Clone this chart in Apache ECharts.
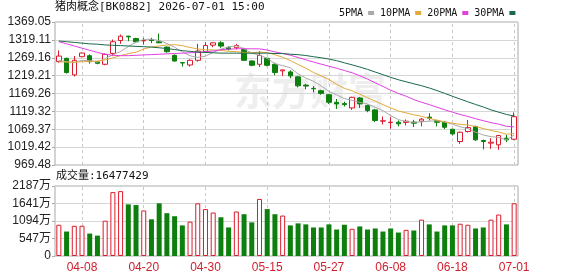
<!DOCTYPE html>
<html><head><meta charset="utf-8">
<script src="https://cdn.jsdelivr.net/npm/echarts@6/dist/echarts.min.js"></script>
<style>html,body{margin:0;padding:0;background:#fff}#c{width:578px;height:276px}</style>
</head><body><div id="c"></div>
<script>
const dates = ['04-02','04-03','04-07','04-08','04-09','04-10','04-13','04-14','04-15','04-16','04-17','04-20','04-21','04-22','04-23','04-24','04-27','04-28','04-29','04-30',
'05-06','05-07','05-08','05-11','05-12','05-13','05-14','05-15','05-18','05-19','05-20','05-21','05-22','05-25','05-26','05-27','05-28','05-29',
'06-01','06-02','06-03','06-04','06-05','06-08','06-09','06-10','06-11','06-12','06-15','06-16','06-17','06-18','06-22','06-23','06-24','06-25','06-26','06-29','06-30','07-01'];
const openP = [1258.3,1267.5,1221.3,1272.1,1274.9,1257.3,1250.9,1281.3,1317.3,1329.4,1322.9,1316.4,1319.2,1313.7,1298.9,1275.8,1255.5,1249.0,1262.0,1286.0,
1304.4,1310.9,1297.1,1297.1,1292.4,1260.1,1250.9,1267.5,1250.9,1232.4,1229.6,1215.8,1192.8,1183.5,1177.0,1165.9,1144.7,1141.0,1129.0,1156.7,
1135.5,1123.5,1092.0,1088.0,1089.1,1088.3,1089.1,1092.0,1103.2,1093.4,1088.8,1069.4,1035.1,1062.9,1076.8,1037.9,1030.5,1025.9,1044.4,1041.6];
const closeP = [1273.9,1227.8,1262.0,1282.3,1258.3,1253.6,1278.6,1313.7,1329.4,1327.5,1313.7,1317.3,1317.3,1310.9,1286.0,1260.1,1254.5,1262.0,1287.8,1303.5,
1310.9,1301.7,1293.3,1303.5,1262.0,1248.1,1275.8,1248.1,1227.8,1235.2,1218.6,1190.7,1190.0,1182.5,1169.6,1144.7,1140.1,1138.2,1158.5,1140.1,
1121.6,1093.9,1093.0,1089.0,1084.5,1091.9,1086.4,1097.6,1099.9,1088.8,1074.9,1056.4,1061.0,1074.0,1039.8,1035.1,1033.3,1051.8,1039.8,1104.5];
const lowP = [1255.5,1225.0,1216.7,1270.3,1252.7,1250.9,1248.1,1273.9,1308.1,1315.5,1310.0,1306.3,1310.0,1310.0,1283.2,1258.3,1244.4,1244.4,1258.3,1283.2,
1298.9,1297.1,1289.6,1292.4,1260.1,1245.3,1243.5,1245.3,1220.4,1218.6,1212.1,1186.1,1180.7,1172.4,1165.9,1140.1,1126.2,1132.7,1123.5,1129.0,
1117.0,1089.3,1082.8,1070.8,1077.3,1080.0,1075.5,1077.3,1093.9,1077.3,1069.9,1051.8,1028.7,1060.1,1037.0,1013.0,1014.8,1012.0,1033.3,1038.8];
const highP = [1289.6,1269.3,1273.9,1284.1,1278.6,1260.1,1281.3,1320.1,1334.0,1330.3,1324.7,1324.7,1324.7,1336.7,1300.7,1278.6,1256.4,1264.7,1308.1,1312.7,
1311.8,1315.5,1301.7,1308.1,1297.1,1262.0,1287.8,1269.3,1255.5,1236.1,1234.2,1218.6,1196.4,1190.0,1179.8,1167.8,1153.9,1146.5,1160.4,1159.5,
1138.2,1126.2,1105.0,1103.2,1093.9,1096.7,1095.7,1101.3,1114.2,1095.7,1092.5,1070.3,1062.9,1095.3,1079.5,1040.7,1044.4,1053.6,1053.6,1116.5];
const ma5 = [1262,1258,1256,1262,1260.9,1256.8,1267.0,1277.3,1286.7,1300.6,1312.6,1320.3,1321.0,1317.3,1309.0,1298.3,1285.8,1274.7,1270.1,1273.6,
1283.7,1293.2,1299.4,1302.6,1294.3,1281.7,1276.5,1267.5,1252.4,1247.0,1241.1,1224.1,1212.5,1203.4,1190.3,1175.5,1165.4,1155.0,1150.2,1144.3,
1139.7,1130.5,1121.4,1107.5,1096.4,1090.5,1089.0,1089.9,1092.1,1092.9,1089.5,1083.5,1076.2,1071.0,1061.2,1053.3,1048.6,1046.8,1040.0,1052.9];
const ma10 = [1258,1257,1257,1258,1259,1260,1263,1269,1275,1280.7,1284.7,1293.6,1299.2,1302.0,1304.8,1305.5,1303.0,1297.9,1293.7,1291.3,
1291.0,1289.5,1287.1,1286.3,1283.9,1282.7,1284.9,1283.5,1277.5,1270.6,1261.4,1250.3,1240.0,1227.9,1218.6,1208.3,1194.7,1183.7,1176.8,1167.3,
1157.6,1147.9,1138.2,1128.9,1120.4,1115.1,1109.7,1105.7,1099.8,1094.7,1090.0,1086.2,1083.0,1081.5,1077.1,1071.4,1066.1,1061.5,1055.5,1057.1];
const ma20 = [1314,1308,1302,1296,1290,1284,1279,1276,1275,1275,1276,1277,1278,1279,1280,1281,1282,1283,1284,1286.0,
1287.9,1291.6,1293.2,1294.2,1294.4,1294.1,1294.0,1290.7,1285.6,1281.0,1276.2,1269.9,1263.6,1257.1,1251.3,1245.5,1239.8,1233.6,1227.2,1219.0,
1209.5,1199.1,1189.1,1178.4,1169.5,1161.7,1152.2,1144.7,1138.3,1131.0,1123.8,1117.1,1110.6,1105.2,1098.8,1093.3,1087.9,1083.6,1077.7,1075.9];
const ma30 = [1316,1314,1312,1310,1308,1307,1305,1304,1303,1302,1301,1300,1299,1297,1295,1292,1289,1287,1285,1284,
1283,1282,1282,1282,1282,1282,1282,1282,1281,1280.9,1279.0,1277.8,1275.4,1272.1,1269.1,1265.5,1260.9,1255.0,1249.3,1243.1,
1236.7,1229.2,1221.8,1214.4,1207.6,1202.0,1196.4,1191.0,1184.7,1177.5,1169.7,1161.5,1153.7,1146.1,1138.7,1131.6,1123.5,1117.0,1110.7,1106.4];
const volume = [977,765,945,945,701,637,1104,1997,2028,1614,1593,1423,1147,1646,1338,1243,956,1073,1646,1466,
1359,1211,892,1391,1306,1051,1784,1466,1306,1264,956,1020,988,892,892,988,828,977,850,924,
828,860,765,860,733,818,797,1136,988,765,956,956,1009,977,860,892,1136,1296,988,1647.7];
const volumeUp = [1,0,1,1,0,0,1,1,1,0,0,1,0,0,0,0,0,1,1,1,1,0,0,1,0,0,1,0,0,1,
0,0,0,0,0,0,0,0,1,0,0,0,0,0,0,1,0,1,0,0,0,0,1,1,0,0,1,1,0,1];
const priceTicks = ['969.48','1019.42','1069.37','1119.32','1169.26','1219.21','1269.16','1319.11','1369.05'];
const volTicks = ['0','547万','1094万','1641万','2187万'];
const xTickLabels = ['04-08','04-20','04-30','05-15','05-27','06-08','06-18','07-01'];
const titleText = '猪肉概念[BK0882] 2026-07-01 15:00';
const volumeLabel = '成交量:16477429';
const maNames = ['5PMA','10PMA','20PMA','30PMA'];

const RED = '#dc1a2c', GREEN = '#0d7f0d';
const maColors = ['#a9a9a9','#e5a93a','#e23ee2','#19694a'];
const PMIN = 969.48, PMAX = 1369.05, PINT = (PMAX - PMIN) / 8;
const VMAX = 2188, VINT = 547;

const chart = echarts.init(document.getElementById('c'), null, {renderer: 'canvas'});
const candleData = dates.map((d, i) => [openP[i], closeP[i], lowP[i], highP[i]]);
const volData = volume.map((v, i) => ({
  value: v,
  itemStyle: volumeUp[i] ? {color: '#fff', borderColor: RED, borderWidth: 1} : {color: GREEN, borderColor: GREEN, borderWidth: 0}
}));
const vlines = xTickLabels.map(d => ({xAxis: d}));
const markLineCfg = {
  silent: true, z: 1, symbol: ['none', 'none'], label: {show: false}, animation: false,
  lineStyle: {type: [3, 3], color: '#c8c8c8', width: 1}, data: vlines
};
const labelFont = "'Liberation Sans', Arial, sans-serif";

chart.setOption({
  animation: false,
  backgroundColor: '#fff',
  legend: {
    data: maNames.map((n, k) => ({name: n, itemStyle: {color: maColors[k]}})),
    left: 334, top: 3, align: 'right', icon: 'rect', itemWidth: 6, itemHeight: 4, itemGap: 6,
    textStyle: {fontSize: 10, color: '#111', fontFamily: "'DejaVu Sans Mono', monospace"},
    selectedMode: false
  },
  graphic: [
    {type: 'text', left: 55, top: 2, style: {text: titleText, fontSize: 11, fill: '#111', fontFamily: "'DejaVu Sans Mono','Noto Sans CJK SC',monospace"}},
    {type: 'text', left: 56, top: 171, style: {text: volumeLabel, fontSize: 11, fill: '#111', fontFamily: "'DejaVu Sans Mono','Noto Sans CJK SC',monospace"}},
    {type: 'text', left: 234, top: 72, z: -10, style: {text: '东方财富', fontSize: 38, fontWeight: 'bold', fill: '#eeeeee', fontFamily: "'Noto Sans CJK SC'"}}
  ],
  grid: [
    {left: 55, right: 60, top: 22, height: 143, show: true, borderColor: '#a8a8a8', borderWidth: 1, backgroundColor: 'transparent'},
    {left: 55, right: 60, top: 186, height: 70, show: true, borderColor: '#a8a8a8', borderWidth: 1, backgroundColor: 'transparent'}
  ],
  xAxis: [
    {type: 'category', gridIndex: 0, data: dates, boundaryGap: true,
     axisLine: {show: false}, axisTick: {show: false}, axisLabel: {show: false}, splitLine: {show: false}},
    {type: 'category', gridIndex: 1, data: dates, boundaryGap: true,
     axisLine: {show: false}, axisTick: {show: false}, splitLine: {show: false},
     axisLabel: {interval: (i, v) => xTickLabels.indexOf(v) >= 0, color: '#d0202e', fontSize: 12, margin: 6, fontFamily: labelFont}}
  ],
  yAxis: [
    {type: 'value', gridIndex: 0, min: PMIN, max: PMAX, interval: PINT,
     axisLine: {show: false}, axisTick: {show: true, length: 3, lineStyle: {color: '#a8a8a8'}},
     splitLine: {show: true, lineStyle: {color: '#d6d6d6', width: 1}},
     axisLabel: {margin: 4, color: '#222', fontSize: 12, fontFamily: labelFont,
       formatter: v => priceTicks[Math.round((v - PMIN) / PINT)] || ''}},
    {type: 'value', gridIndex: 1, min: 0, max: VMAX, interval: VINT,
     axisLine: {show: false}, axisTick: {show: true, length: 3, lineStyle: {color: '#a8a8a8'}},
     splitLine: {show: true, lineStyle: {color: '#d6d6d6', width: 1}},
     axisLabel: {margin: 4, color: '#222', fontSize: 12, fontFamily: "'Liberation Sans','Noto Sans CJK SC',sans-serif",
       formatter: v => volTicks[Math.round(v / VINT)] || ''}}
  ],
  series: [
    {type: 'line', xAxisIndex: 0, yAxisIndex: 0, data: [], silent: true, z: 1, markLine: markLineCfg},
    {type: 'line', xAxisIndex: 1, yAxisIndex: 1, data: [], silent: true, z: 1, markLine: markLineCfg},
    {type: 'candlestick', name: 'K', xAxisIndex: 0, yAxisIndex: 0, data: candleData, barWidth: 5, z: 3,
     itemStyle: {color: '#fff', color0: GREEN, borderColor: RED, borderColor0: GREEN, borderWidth: 1}},
    ...[ma5, ma10, ma20, ma30].map((arr, k) => ({
      type: 'line', name: maNames[k], xAxisIndex: 0, yAxisIndex: 0, data: arr, showSymbol: false, symbol: 'none',
      z: 4, lineStyle: {width: 1, color: maColors[k]}, itemStyle: {color: maColors[k]}, silent: true
    })),
    {type: 'bar', xAxisIndex: 1, yAxisIndex: 1, data: volData, barWidth: 5, z: 3}
  ]
});
</script></body></html>
